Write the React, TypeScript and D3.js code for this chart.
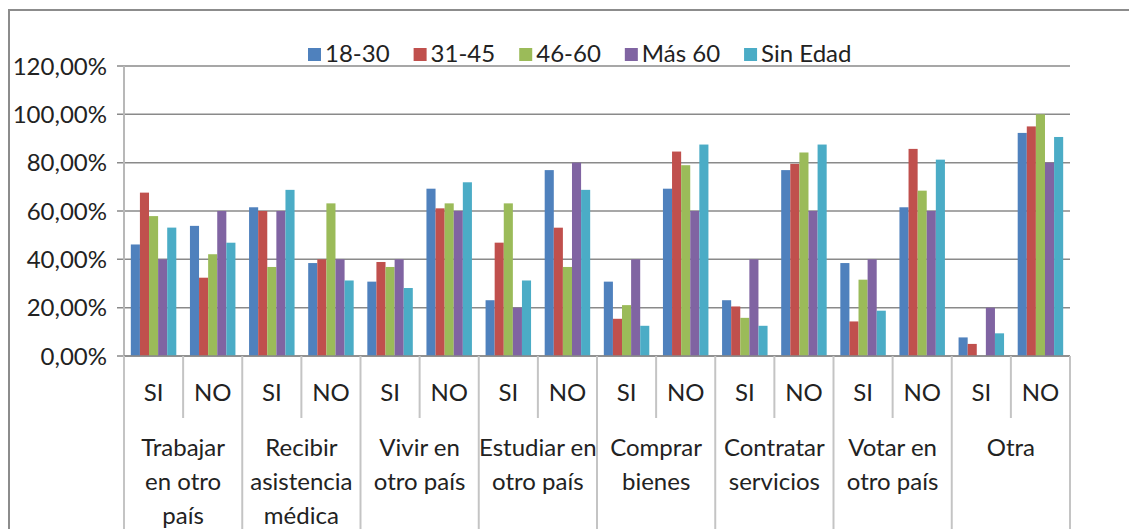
import React, { useEffect, useRef } from 'react';
import * as d3 from 'd3';

const series = ['18-30', '31-45', '46-60', 'Más 60', 'Sin Edad'];
const colors = ['#4F81BD', '#C0504D', '#9BBB59', '#8064A2', '#4BACC6'];
const answers = ['SI', 'NO'];
const groups = [
  ['Trabajar', 'en otro', 'país'],
  ['Recibir', 'asistencia', 'médica'],
  ['Vivir en', 'otro país'],
  ['Estudiar en', 'otro país'],
  ['Comprar', 'bienes'],
  ['Contratar', 'servicios'],
  ['Votar en', 'otro país'],
  ['Otra'],
];

// percentages, SI/NO pairs per group
const age1830 = [46.15, 53.85, 61.54, 38.46, 30.77, 69.23, 23.08, 76.92, 30.77, 69.23, 23.08, 76.92, 38.46, 61.54, 7.69, 92.31];
const age3145 = [67.6, 32.4, 60.0, 40.0, 38.9, 61.1, 46.9, 53.1, 15.4, 84.6, 20.5, 79.5, 14.3, 85.7, 5.0, 95.0];
const age4660 = [57.89, 42.11, 36.84, 63.16, 36.84, 63.16, 63.16, 36.84, 21.05, 78.95, 15.79, 84.21, 31.58, 68.42, 0, 100.0];
const ageMas60 = [40, 60, 60, 40, 40, 60, 20, 80, 40, 60, 40, 60, 40, 60, 20, 80];
const sinEdad = [53.13, 46.88, 68.75, 31.25, 28.13, 71.88, 31.25, 68.75, 12.5, 87.5, 12.5, 87.5, 18.75, 81.25, 9.38, 90.63];

const yTicks = [0, 20, 40, 60, 80, 100, 120];

export default function App() {
  const ref = useRef<SVGSVGElement>(null);

  useEffect(() => {
    document.body.style.margin = '0';
    const W = 1129;
    const H = 529;
    const left = 124;
    const right = 1070;
    const svg = d3.select(ref.current);
    svg.selectAll('*').remove();
    svg.attr('width', W).attr('height', H);

    const font = 'Lato, "Open Sans", sans-serif';
    const values = [age1830, age3145, age4660, ageMas60, sinEdad];
    const cats = d3.range(groups.length * 2);

    const x = d3.scaleBand<number>().domain(cats).range([left, right]);
    const xs = d3
      .scaleBand<string>()
      .domain(series)
      .range([0, x.bandwidth()])
      .paddingInner(0)
      .paddingOuter(0.75);
    const y = d3.scaleLinear().domain([0, 120]).range([356, 66]);

    // outer frame
    svg
      .append('rect')
      .attr('x', 9)
      .attr('y', 10)
      .attr('width', 1200)
      .attr('height', 600)
      .attr('fill', 'none')
      .attr('stroke', '#8c8c8c')
      .attr('stroke-width', 2);

    // gridlines
    svg
      .append('g')
      .selectAll('line')
      .data(yTicks)
      .join('line')
      .attr('x1', left - 7)
      .attr('x2', right)
      .attr('y1', d => y(d))
      .attr('y2', d => y(d))
      .attr('stroke', '#8a8a8a')
      .attr('stroke-width', 1.5);

    svg
      .append('line')
      .attr('x1', left)
      .attr('x2', left)
      .attr('y1', y(120))
      .attr('y2', y(0))
      .attr('stroke', '#b8b8b8')
      .attr('stroke-width', 2);

    svg
      .append('g')
      .selectAll('text')
      .data(yTicks)
      .join('text')
      .attr('x', 107)
      .attr('y', d => y(d))
      .attr('dy', '0.36em')
      .attr('text-anchor', 'end')
      .attr('font-family', font)
      .attr('font-size', 24)
      .attr('fill', '#222')
      .text(d => d3.format('.2f')(d).replace('.', ',') + '%');

    // bars
    series.forEach((s, si) => {
      svg
        .append('g')
        .selectAll('rect')
        .data(values[si])
        .join('rect')
        .attr('x', (d, i) => (x(i) as number) + (xs(s) as number))
        .attr('width', xs.bandwidth())
        .attr('y', d => y(d))
        .attr('height', d => y(0) - y(d))
        .attr('fill', colors[si]);
    });

    svg
      .append('line')
      .attr('x1', left)
      .attr('x2', right)
      .attr('y1', y(0))
      .attr('y2', y(0))
      .attr('stroke', '#8a8a8a')
      .attr('stroke-width', 1.5);

    // category separators
    const bounds = d3.range(cats.length + 1);
    svg
      .append('g')
      .selectAll('line')
      .data(bounds)
      .join('line')
      .attr('x1', i => left + i * x.step())
      .attr('x2', i => left + i * x.step())
      .attr('y1', y(0))
      .attr('y2', i => (i % 2 === 0 ? H : 418))
      .attr('stroke', '#c4c4c4')
      .attr('stroke-width', 2);

    svg
      .append('g')
      .selectAll('text')
      .data(cats)
      .join('text')
      .attr('x', i => (x(i) as number) + x.bandwidth() / 2)
      .attr('y', 401)
      .attr('text-anchor', 'middle')
      .attr('font-family', font)
      .attr('font-size', 24)
      .attr('fill', '#222')
      .text(i => answers[i % 2]);

    const g = svg
      .append('g')
      .selectAll('text')
      .data(groups)
      .join('text')
      .attr('x', (d, gi) => (x(gi * 2) as number) + x.bandwidth())
      .attr('text-anchor', 'middle')
      .attr('font-family', font)
      .attr('font-size', 24)
      .attr('fill', '#222');
    g.selectAll('tspan')
      .data(d => d)
      .join('tspan')
      .attr('x', function () {
        return (this.parentNode as SVGTextElement).getAttribute('x');
      })
      .attr('y', (d, k) => 456 + k * 34)
      .text(d => d);

    // legend
    const legend = svg.append('g');
    let cx = 308;
    series.forEach((s, si) => {
      legend
        .append('rect')
        .attr('x', cx)
        .attr('y', 48)
        .attr('width', 13)
        .attr('height', 13)
        .attr('fill', colors[si]);
      const t = legend
        .append('text')
        .attr('x', cx + 17)
        .attr('y', 62)
        .attr('font-family', font)
        .attr('font-size', 24)
        .attr('fill', '#222')
        .text(s);
      const w = (t.node() as SVGTextElement).getComputedTextLength();
      cx = cx + 17 + w + 24;
    });
  }, []);

  return <svg ref={ref} style={{ display: 'block' }} />;
}
